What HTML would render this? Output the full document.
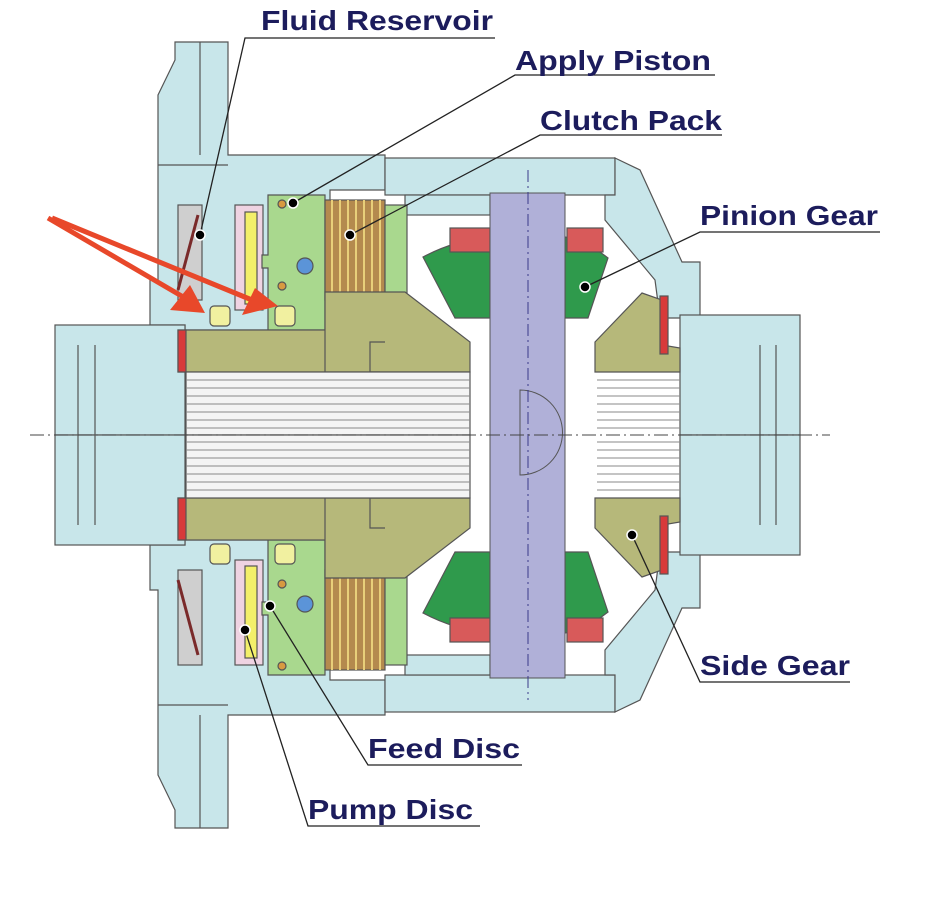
<!DOCTYPE html>
<html><head><meta charset="utf-8"><style>
html,body{margin:0;padding:0;background:#fff;width:952px;height:900px;overflow:hidden}
text{font-family:"Liberation Sans",sans-serif;font-weight:bold;fill:#1c1c5c;font-size:28px}
</style></head><body>
<svg width="952" height="900" viewBox="0 0 952 900" xmlns="http://www.w3.org/2000/svg">
<defs>
<g id="half" stroke="#555" stroke-width="1.2">
  <polygon points="175,42 228,42 228,155 385,155 385,190 330,190 330,330 185,330 185,325 150,325 150,280 158,280 158,95 175,60" fill="#c8e6ea"/>
  <line x1="158" y1="165" x2="228" y2="165" />
  <line x1="200" y1="42" x2="200" y2="155" />
  <rect x="55" y="325" width="130" height="110" fill="#c8e6ea"/>
  <line x1="78" y1="345" x2="78" y2="435"/><line x1="95" y1="345" x2="95" y2="435"/>
  <rect x="385" y="158" width="230" height="37" fill="#c8e6ea"/>
  <rect x="405" y="195" width="85" height="20" fill="#c8e6ea"/>
  <polygon points="615,158 640,170 682,262 700,262 700,315 680,318 660,318 655,280 605,220 605,195 615,195" fill="#c8e6ea"/>
  <rect x="680" y="315" width="120" height="120" fill="#c8e6ea"/>
  <line x1="760" y1="345" x2="760" y2="435"/><line x1="776" y1="345" x2="776" y2="435"/>
  <rect x="178" y="205" width="24" height="95" fill="#cfcfcf"/>
  <line x1="178" y1="290" x2="198" y2="215" stroke="#7a2a2a" stroke-width="3"/>
  <rect x="235" y="205" width="28" height="105" fill="#efd3e2"/>
  <rect x="245" y="212" width="12" height="92" fill="#f3ef6a"/>
  <polygon points="268,195 325,195 325,330 268,330 268,268 262,268 262,255 268,255" fill="#a9d88e"/>
  <circle cx="305" cy="266" r="8" fill="#5b94d8"/>
  <circle cx="282" cy="204" r="4" fill="#d89a40"/>
  <circle cx="282" cy="286" r="4" fill="#d89a40"/>
  <rect x="325" y="200" width="60" height="100" fill="#b48a4e"/>
  <g stroke="#e8cf7a" stroke-width="2">
    <line x1="332" y1="200" x2="332" y2="300"/><line x1="340" y1="200" x2="340" y2="300"/>
    <line x1="348" y1="200" x2="348" y2="300"/><line x1="356" y1="200" x2="356" y2="300"/>
    <line x1="364" y1="200" x2="364" y2="300"/><line x1="372" y1="200" x2="372" y2="300"/>
    <line x1="380" y1="200" x2="380" y2="300"/>
  </g>
  <rect x="385" y="205" width="22" height="90" fill="#a9d88e"/>
  <rect x="210" y="306" width="20" height="20" rx="4" fill="#f1f0a0"/>
  <rect x="275" y="306" width="20" height="20" rx="4" fill="#f1f0a0"/>
  <rect x="178" y="330" width="150" height="42" fill="#b6b87a"/>
  <rect x="178" y="330" width="8" height="42" fill="#d83a3a"/>
  <polygon points="325,292 405,292 470,342 470,372 325,372" fill="#b6b87a"/>
  <polyline points="380,372 370,372 370,342 385,342" fill="none" stroke="#555"/>
  <rect x="186" y="372" width="284" height="63" fill="#f4f4f4"/>
  <g stroke="#888" stroke-width="1">
    <line x1="186" y1="380" x2="470" y2="380"/><line x1="186" y1="388" x2="470" y2="388"/>
    <line x1="186" y1="396" x2="470" y2="396"/><line x1="186" y1="404" x2="470" y2="404"/>
    <line x1="186" y1="412" x2="470" y2="412"/><line x1="186" y1="420" x2="470" y2="420"/>
    <line x1="186" y1="428" x2="470" y2="428"/>
    <line x1="597" y1="380" x2="680" y2="380"/><line x1="597" y1="388" x2="680" y2="388"/>
    <line x1="597" y1="396" x2="680" y2="396"/><line x1="597" y1="404" x2="680" y2="404"/>
    <line x1="597" y1="412" x2="680" y2="412"/><line x1="597" y1="420" x2="680" y2="420"/>
    <line x1="597" y1="428" x2="680" y2="428"/>
  </g>
  <path d="M423,257 Q455,240 490,237 L490,318 L455,318 Z" fill="#2f9a4c"/>
  <path d="M565,237 Q585,240 608,258 L588,318 L565,318 Z" fill="#2f9a4c"/>
  <rect x="450" y="228" width="40" height="24" fill="#d85a5a"/>
  <rect x="567" y="228" width="36" height="24" fill="#d85a5a"/>
  <polygon points="595,342 642,293 662,300 662,345 680,348 680,372 595,372" fill="#b6b87a"/>
  <rect x="660" y="296" width="8" height="58" fill="#d83a3a"/>
</g>
</defs>
<use href="#half"/>
<use href="#half" transform="matrix(1,0,0,-1,0,870)"/>
<rect x="490" y="193" width="75" height="485" fill="#b0b0d8" stroke="#555"/>
<path d="M520,390 A42,42 0 0 1 520,475 Z" fill="#b0b0d8" stroke="#555"/>
<line x1="528" y1="170" x2="528" y2="700" stroke="#3a3a8a" stroke-dasharray="12,4,2,4"/>
<line x1="30" y1="435" x2="830" y2="435" stroke="#444" stroke-dasharray="14,4,2,4"/>
<g stroke="#222" stroke-width="1.3" fill="none">
  <polyline points="495,38 245,38 200,235"/>
  <polyline points="715,75 515,75 293,203"/>
  <polyline points="722,135 540,135 350,235"/>
  <polyline points="880,232 700,232 585,287"/>
  <polyline points="850,682 700,682 632,535"/>
  <polyline points="522,765 368,765 270,606"/>
  <polyline points="480,826 308,826 245,630"/>
</g>
<g fill="#000" stroke="#fff" stroke-width="1.5">
  <circle cx="200" cy="235" r="5"/><circle cx="293" cy="203" r="5"/><circle cx="350" cy="235" r="5"/>
  <circle cx="585" cy="287" r="5"/><circle cx="632" cy="535" r="5"/><circle cx="270" cy="606" r="5"/><circle cx="245" cy="630" r="5"/>
</g>
<g stroke="#e8482a" stroke-width="5" fill="#e8482a">
  <line x1="48" y1="218" x2="185" y2="298"/>
  <line x1="52" y1="218" x2="252" y2="300"/>
  <polygon points="205,313 170,310 190,285" stroke="none"/>
  <polygon points="278,306 242,315 255,288" stroke="none"/>
</g>
<text x="261" y="30" textLength="232" lengthAdjust="spacingAndGlyphs">Fluid Reservoir</text>
<text x="515" y="70" textLength="196" lengthAdjust="spacingAndGlyphs">Apply Piston</text>
<text x="540" y="130" textLength="182" lengthAdjust="spacingAndGlyphs">Clutch Pack</text>
<text x="700" y="225" textLength="178" lengthAdjust="spacingAndGlyphs">Pinion Gear</text>
<text x="700" y="675" textLength="150" lengthAdjust="spacingAndGlyphs">Side Gear</text>
<text x="368" y="758" textLength="152" lengthAdjust="spacingAndGlyphs">Feed Disc</text>
<text x="308" y="819" textLength="165" lengthAdjust="spacingAndGlyphs">Pump Disc</text>
</svg>
</body></html>
